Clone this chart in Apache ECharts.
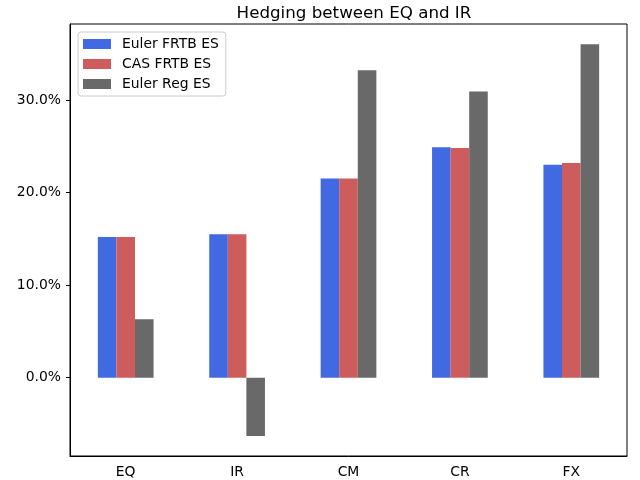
<!DOCTYPE html>
<html>
<head>
<meta charset="utf-8">
<script src="https://cdn.jsdelivr.net/npm/echarts@6/dist/echarts.min.js"></script>
<style>
  html, body { margin: 0; padding: 0; background: #fff; }
  #chart { width: 640px; height: 480px; }
</style>
</head>
<body>
<div id="chart"></div>
<script>
// categories + series (values in %)
var categories = ['EQ', 'IR', 'CM', 'CR', 'FX'];
var eulerFrtb = [15.2, 15.5, 21.5, 24.9, 23.0];
var casFrtb = [15.2, 15.5, 21.5, 24.8, 23.2];
var eulerReg = [6.3, -6.3, 33.2, 30.9, 36.0];
var yTicks = [0, 10, 20, 30];
var yMin = -8.46, yMax = 38.2;

var font = 'DejaVu Sans';
var myChart = echarts.init(document.getElementById('chart'));

var option = {
  animation: false,
  title: {
    text: 'Hedging between EQ and IR',
    left: 349,
    top: 0,
    textAlign: 'center',
    textStyle: { fontFamily: font, fontSize: 16.7, fontWeight: 'normal', color: '#000' }
  },
  legend: {
    orient: 'vertical',
    left: 78,
    top: 32,
    padding: [5, 7, 5, 5],
    itemWidth: 28,
    itemHeight: 10,
    itemGap: 6,
    icon: 'rect',
    borderColor: '#ccc',
    borderWidth: 1,
    borderRadius: 3,
    backgroundColor: 'rgba(255,255,255,0.8)',
    textStyle: { fontFamily: font, fontSize: 13.9, color: '#000', lineHeight: 14, padding: [0, 0, 0, 6] },
    data: ['Euler FRTB ES', 'CAS FRTB ES', 'Euler Reg ES']
  },
  grid: {
    left: 70,
    right: 13,
    top: 24,
    bottom: 24,
    show: true,
    borderColor: '#000',
    borderWidth: 1
  },
  xAxis: {
    type: 'category',
    data: categories,
    axisLine: { onZero: false, lineStyle: { color: '#000', width: 1 } },
    axisTick: { alignWithLabel: true, length: 4, lineStyle: { color: '#000' } },
    axisLabel: { fontFamily: font, fontSize: 13.9, color: '#000', margin: 9 },
    splitLine: { show: false }
  },
  yAxis: {
    type: 'value',
    min: yMin,
    max: yMax,
    axisLine: { show: true, lineStyle: { color: '#000', width: 1 } },
    axisTick: { show: true, length: 4, customValues: yTicks, lineStyle: { color: '#000' } },
    axisLabel: {
      fontFamily: font, fontSize: 13.9, color: '#000', margin: 9,
      customValues: yTicks,
      formatter: function (v) { return v.toFixed(1) + '%'; }
    },
    splitLine: { show: false }
  },
  series: [{
    name: 'Euler FRTB ES',
    type: 'bar',
    barWidth: '16.67%',
    barGap: '0%',
    itemStyle: { color: '#4169E1' },
    data: eulerFrtb
  }, {
    name: 'CAS FRTB ES',
    type: 'bar',
    barWidth: '16.67%',
    barGap: '0%',
    itemStyle: { color: '#CD5C5C' },
    data: casFrtb
  }, {
    name: 'Euler Reg ES',
    type: 'bar',
    barWidth: '16.67%',
    barGap: '0%',
    itemStyle: { color: '#696969' },
    data: eulerReg
  }]
};
myChart.setOption(option);
</script>
</body>
</html>
